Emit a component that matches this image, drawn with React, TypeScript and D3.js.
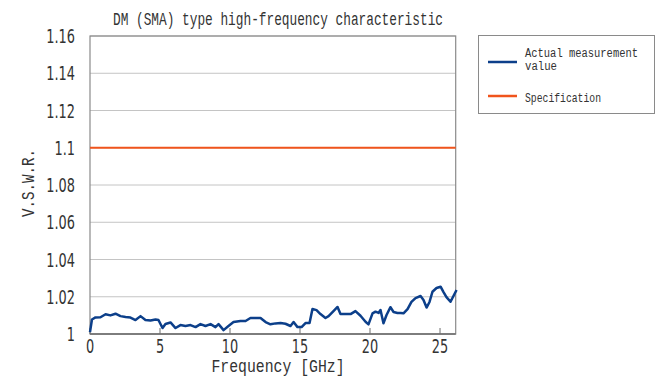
import * as d3 from "d3";

const freq = [
  0, 0.14, 0.39, 0.75, 1.11, 1.46, 1.82, 2.18, 2.54, 2.89, 3.25, 3.61, 3.96, 4.32, 4.68, 4.89,
  5.18, 5.39, 5.75, 6.11, 6.46, 6.82, 7.18, 7.54, 7.89, 8.25, 8.61, 8.96, 9.18, 9.54, 9.89,
  10.25, 10.75, 11.11, 11.46, 11.82, 12.18, 12.54, 12.89, 13.25, 13.61, 13.96, 14.32, 14.54,
  14.82, 15.11, 15.39, 15.68, 15.89, 16.18, 16.46, 16.82, 17.04, 17.39, 17.68, 17.89, 18.25,
  18.61, 18.96, 19.32, 19.68, 19.89, 20.18, 20.39, 20.61, 20.75, 20.96, 21.18, 21.46, 21.68,
  21.96, 22.18, 22.39, 22.68, 22.96, 23.25, 23.61, 23.82, 24.04, 24.25, 24.46, 24.75, 25.04,
  25.25, 25.46, 25.75, 25.96, 26.18,
];
const measured = [
  1.001, 1.0078, 1.0089, 1.009, 1.0106, 1.01, 1.0109, 1.0096, 1.0091, 1.0088, 1.0075, 1.0096,
  1.0075, 1.0072, 1.0078, 1.0075, 1.0032, 1.0054, 1.0062, 1.0032, 1.0048, 1.0043, 1.0048,
  1.0037, 1.0053, 1.0043, 1.0053, 1.0037, 1.0053, 1.0021, 1.0043, 1.0064, 1.007, 1.007, 1.0086,
  1.0086, 1.0086, 1.0064, 1.0052, 1.0057, 1.0059, 1.0055, 1.0043, 1.0064, 1.0037, 1.0037,
  1.0059, 1.0059, 1.0134, 1.0128, 1.0107, 1.0086, 1.0096, 1.0123, 1.0145, 1.0107, 1.0107,
  1.0107, 1.0123, 1.0098, 1.0066, 1.0052, 1.0111, 1.012, 1.0113, 1.0129, 1.0058, 1.0102,
  1.0144, 1.0118, 1.0113, 1.0113, 1.0111, 1.0134, 1.0172, 1.0193, 1.0204, 1.0183, 1.0142,
  1.0172, 1.0227, 1.0247, 1.0254, 1.0225, 1.0198, 1.0173, 1.0204, 1.0236,
];
const specValue = 1.1;
const yTicks = [1, 1.02, 1.04, 1.06, 1.08, 1.1, 1.12, 1.14, 1.16];
const xTicks = [0, 5, 10, 15, 20, 25];
const legendLabels = ["Actual measurement", "value", "Specification"];

export default function App() {
  const width = 657;
  const height = 378;
  const left = 90;
  const right = 455.7;
  const top = 36;
  const bottom = 334;

  const x = d3.scaleLinear().domain([0, 26.12]).range([left, right]);
  const y = d3.scaleLinear().domain([1, 1.16]).range([bottom, top]);

  const line = d3
    .line<number>()
    .x((_, i) => x(freq[i]))
    .y((d) => y(d));

  const tickFont = "'DejaVu Sans', sans-serif";
  const monoFont = "'Liberation Mono', 'DejaVu Sans Mono', monospace";
  const squeeze = 0.68;

  return (
    <svg
      width={width}
      height={height}
      style={{ position: "absolute", left: 0, top: 0, background: "#fff" }}
    >
      {/* grid lines */}
      {yTicks.map((t) => (
        <line key={t} x1={left} x2={right} y1={y(t)} y2={y(t)} stroke="#c4c4c4" strokeWidth={1} />
      ))}
      {/* plot frame */}
      <rect x={left} y={top} width={right - left} height={bottom - top} fill="none" stroke="#8a8a8a" strokeWidth={1.2} />
      <line x1={left} x2={right} y1={bottom} y2={bottom} stroke="#6e6e6e" strokeWidth={1.5} />

      {/* x ticks */}
      {xTicks.map((t) => (
        <g key={t}>
          <line x1={x(t)} x2={x(t)} y1={bottom} y2={bottom - 6} stroke="#6e6e6e" strokeWidth={1} />
          <text
            transform={`translate(${x(t)}, ${bottom + 19}) scale(${squeeze}, 1)`}
            textAnchor="middle"
            fontFamily={tickFont}
            fontSize={19}
            fill="#333"
          >
            {t}
          </text>
        </g>
      ))}
      {/* y tick labels */}
      {yTicks.map((t) => (
        <text
          key={t}
          transform={`translate(75, ${y(t) + 7}) scale(${squeeze}, 1)`}
          textAnchor="end"
          fontFamily={tickFont}
          fontSize={19}
          fill="#333"
        >
          {String(+t.toFixed(2))}
        </text>
      ))}

      {/* specification */}
      <line x1={left} x2={right} y1={y(specValue)} y2={y(specValue)} stroke="#f0541c" strokeWidth={2} />
      {/* measurement */}
      <path d={line(measured) ?? ""} fill="none" stroke="#0c3f8a" strokeWidth={2.5} strokeLinejoin="round" />

      {/* titles */}
      <text x={278} y={25} textAnchor="middle" fontFamily={monoFont} fontSize={18} fill="#333" textLength={330} lengthAdjust="spacingAndGlyphs">
        DM (SMA) type high-frequency characteristic
      </text>
      <text x={278} y={372} textAnchor="middle" fontFamily={monoFont} fontSize={19} fill="#333" textLength={133} lengthAdjust="spacingAndGlyphs">
        Frequency [GHz]
      </text>
      <text transform={`translate(34, ${(top + bottom) / 2 - 2}) rotate(-90)`} textAnchor="middle" fontFamily={monoFont} fontSize={19} fill="#333" textLength={68} lengthAdjust="spacingAndGlyphs">
        V.S.W.R.
      </text>

      {/* legend */}
      <rect x={478.5} y={35.5} width={176} height={78} fill="#fff" stroke="#8a8a8a" strokeWidth={1} />
      <line x1={488} x2={517} y1={62} y2={62} stroke="#0c3f8a" strokeWidth={2.5} />
      <line x1={488} x2={517} y1={96} y2={96} stroke="#f0541c" strokeWidth={2.5} />
      <text x={525} y={57} fontFamily={monoFont} fontSize={12} fill="#333" textLength={113} lengthAdjust="spacingAndGlyphs">
        {legendLabels[0]}
      </text>
      <text x={525} y={70} fontFamily={monoFont} fontSize={12} fill="#333" textLength={32} lengthAdjust="spacingAndGlyphs">
        {legendLabels[1]}
      </text>
      <text x={525} y={102} fontFamily={monoFont} fontSize={13} fill="#333" textLength={76} lengthAdjust="spacingAndGlyphs">
        {legendLabels[2]}
      </text>
    </svg>
  );
}
